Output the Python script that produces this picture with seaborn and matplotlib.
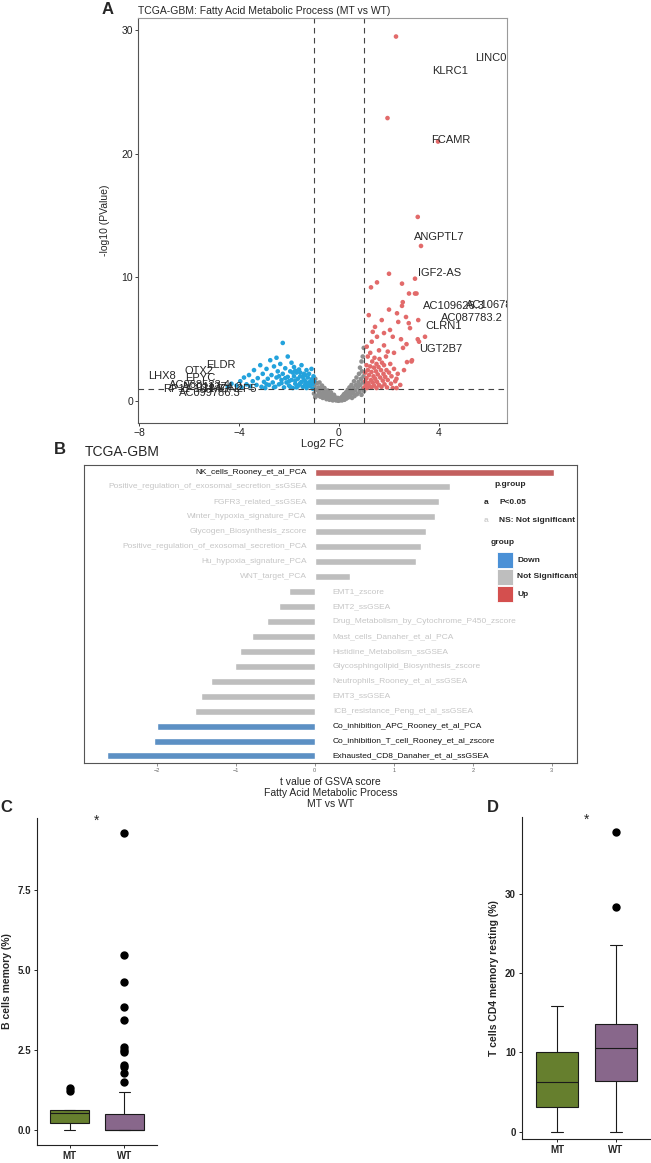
import numpy as np
import pandas as pd
import matplotlib
matplotlib.use("Agg")
import matplotlib.pyplot as plt
import seaborn as sns
from matplotlib.patches import Rectangle

# ---------------- Panel A: volcano (log2FC, -log10 P)
down_fc = [-4.45, -4.3, -4.1, -3.95, -3.9, -3.8, -3.7, -3.6, -3.55, -3.45, -3.4, -3.3, -3.25, -3.15,
           -3.1, -3.05, -3.0, -2.95, -2.9, -2.85, -2.8, -2.75, -2.7, -2.65, -2.6, -2.55, -2.5, -2.5,
           -2.45, -2.4, -2.35, -2.3, -2.25, -2.25, -2.2, -2.15, -2.1, -2.05, -2.05, -2.0, -1.95, -1.9,
           -1.9, -1.85, -1.8, -1.8, -1.75, -1.7, -1.7, -1.65, -1.6, -1.6, -1.55, -1.5, -1.5, -1.45,
           -1.4, -1.4, -1.35, -1.3, -1.3, -1.25, -1.2, -1.2, -1.15, -1.1, -1.1, -1.05, -1.05, -1.02,
           -1.0, -2.9, -2.6, -2.4, -2.3, -2.15, -2.0, -1.95, -1.85, -1.75, -1.65, -1.55, -1.45, -1.35,
           -1.25, -1.15, -1.35, -1.55, -1.75]
down_p = [1.15, 1.4, 1.25, 1.6, 1.1, 1.9, 1.35, 2.1, 1.2, 1.6, 2.5, 1.3, 1.85, 2.9,
          1.15, 2.2, 1.55, 1.05, 2.6, 1.8, 1.3, 3.3, 2.1, 1.5, 2.8, 1.15, 3.5, 1.9,
          2.4, 1.35, 3.0, 1.7, 4.7, 2.2, 1.1, 2.65, 1.5, 3.6, 1.95, 1.25, 2.4, 1.7,
          3.1, 1.05, 2.0, 2.75, 1.4, 2.3, 1.1, 1.8, 2.55, 1.3, 2.0, 1.55, 2.9, 1.15,
          2.2, 1.7, 1.35, 2.5, 1.05, 1.9, 1.5, 2.2, 1.2, 1.75, 2.6, 1.4, 1.0, 2.0,
          1.6, 1.35, 1.1, 2.0, 1.45, 1.85, 1.6, 1.15, 2.3, 1.65, 1.2, 1.45, 1.95, 1.6,
          1.25, 1.55, 2.1, 2.3, 2.45]

ns_fc = [-1.0, -0.98, -0.95, -0.95, -0.9, -0.88, -0.85, -0.82, -0.8, -0.78, -0.75, -0.72, -0.7,
         -0.68, -0.65, -0.62, -0.6, -0.58, -0.55, -0.52, -0.5, -0.48, -0.45, -0.42, -0.4, -0.38,
         -0.35, -0.32, -0.3, -0.28, -0.25, -0.22, -0.2, -0.18, -0.15, -0.12, -0.1, -0.08, -0.05,
         -0.03, 0.0, 0.03, 0.05, 0.08, 0.1, 0.12, 0.15, 0.18, 0.2, 0.22, 0.25, 0.28, 0.3, 0.32,
         0.35, 0.38, 0.4, 0.42, 0.45, 0.48, 0.5, 0.52, 0.55, 0.58, 0.6, 0.62, 0.65, 0.68, 0.7,
         0.72, 0.75, 0.78, 0.8, 0.82, 0.84, 0.85, 0.88, 0.9, 0.9, 0.92, 0.94, 0.95, 0.96, 0.98,
         0.99, 1.0]
ns_p = [0.6, 1.2, 0.3, 1.8, 0.9, 1.45, 0.45, 1.1, 0.7, 1.5, 0.35, 0.95, 0.6,
        1.25, 0.25, 0.8, 0.5, 1.05, 0.3, 0.7, 0.15, 0.5, 0.85, 0.3, 0.6, 0.1,
        0.4, 0.7, 0.2, 0.45, 0.05, 0.3, 0.5, 0.15, 0.3, 0.05, 0.2, 0.1, 0.25,
        0.02, 0.12, 0.05, 0.2, 0.1, 0.3, 0.05, 0.4, 0.2, 0.55, 0.1, 0.35, 0.7, 0.2, 0.5,
        0.9, 0.3, 0.65, 1.1, 0.45, 0.85, 1.3, 0.25, 0.65, 1.05, 1.6, 0.4, 0.85, 1.3, 1.9,
        0.55, 1.1, 1.55, 2.2, 0.75, 2.7, 1.3, 1.8, 3.2, 0.5, 2.4, 1.0, 3.6, 1.5, 2.0,
        4.3, 0.8]

up_fc = [1.02, 1.05, 1.05, 1.08, 1.1, 1.1, 1.12, 1.15, 1.15, 1.18, 1.2, 1.22, 1.25, 1.25, 1.28,
         1.3, 1.3, 1.33, 1.35, 1.38, 1.4, 1.4, 1.42, 1.45, 1.48, 1.5, 1.5, 1.52, 1.55, 1.58, 1.6,
         1.62, 1.65, 1.68, 1.7, 1.72, 1.75, 1.78, 1.8, 1.82, 1.85, 1.88, 1.9, 1.92, 1.95, 2.0,
         2.05, 2.08, 2.1, 2.15, 2.2, 2.25, 2.3, 2.35, 2.45, 2.6, 2.72, 2.9, 2.3,
         1.11, 1.31, 1.8, 2.56, 2.92, 1.52, 2.15, 2.48, 3.15, 3.44, 1.8, 1.44, 2.04, 2.84, 1.71,
         2.37, 2.79, 3.17, 1.19, 2.68, 2.32, 2.0, 2.52, 2.55, 2.8, 3.04, 1.28, 2.52, 1.52, 3.04,
         2.0, 3.28, 3.15, 1.94, 2.28, 3.1, 3.2, 1.6, 2.2, 1.35, 1.95, 2.7, 3.96]
up_p = [1.1, 1.6, 2.3, 1.3, 2.9, 1.85, 1.05, 2.5, 3.6, 1.45, 2.1, 1.2, 2.8, 3.9, 1.7,
        2.35, 1.1, 3.2, 1.5, 2.0, 2.7, 1.25, 3.5, 1.8, 2.4, 1.05, 3.0, 1.55, 2.15, 2.75, 1.3,
        3.4, 1.9, 2.5, 1.15, 3.1, 1.65, 2.2, 2.9, 1.35, 1.95, 3.6, 2.5, 1.1, 1.7, 2.3,
        3.0, 1.4, 2.0, 1.05, 2.6, 1.6, 1.8, 2.2, 1.3, 2.5, 3.15, 3.2, 1.05,
        4.4, 4.8, 4.5, 4.3, 3.3, 5.2, 5.2, 5.0, 5.0, 5.2, 5.5, 6.0, 5.75, 5.9, 6.55,
        6.4, 6.3, 6.55, 6.95, 6.8, 7.1, 7.4, 7.7, 8.0, 8.7, 8.7, 9.2, 9.5, 9.6, 9.9,
        10.3, 12.55, 14.9, 22.9, 29.5, 8.7, 4.8, 4.1, 3.9, 5.6, 4.0, 4.6, 21.0]

lab_genes = ["LINC0", "KLRC1", "FCAMR", "ANGPTL7", "IGF2-AS", "AC109626.3", "AC106786.1",
             "AC087783.2", "CLRN1", "UGT2B7", "LHX8", "OTX2", "EPYC", "ELDR", "AC068533.4",
             "RP11-1C1.7", "AC011374.2", "HMGN2P5", "AC099786.3"]
lab_fc = [5.44, 3.72, 3.68, 3.0, 3.16, 3.36, 5.08, 4.08, 3.46, 3.2, -7.64, -6.16, -6.16, -5.32,
          -6.8, -7.05, -6.3, -5.45, -6.4]
lab_p = [27.8, 26.7, 21.1, 13.3, 10.35, 7.65, 7.75, 6.7, 6.1, 4.2, 2.0, 2.4, 1.85, 2.9,
         1.3, 0.95, 1.1, 1.0, 0.65]

# ---------------- Panel B: GSVA t values
sig_names = ["NK_cells_Rooney_et_al_PCA",
             "Positive_regulation_of_exosomal_secretion_ssGSEA",
             "FGFR3_related_ssGSEA",
             "Winter_hypoxia_signature_PCA",
             "Glycogen_Biosynthesis_zscore",
             "Positive_regulation_of_exosomal_secretion_PCA",
             "Hu_hypoxia_signature_PCA",
             "WNT_target_PCA",
             "EMT1_zscore",
             "EMT2_ssGSEA",
             "Drug_Metabolism_by_Cytochrome_P450_zscore",
             "Mast_cells_Danaher_et_al_PCA",
             "Histidine_Metabolism_ssGSEA",
             "Glycosphingolipid_Biosynthesis_zscore",
             "Neutrophils_Rooney_et_al_ssGSEA",
             "EMT3_ssGSEA",
             "ICB_resistance_Peng_et_al_ssGSEA",
             "Co_inhibition_APC_Rooney_et_al_PCA",
             "Co_inhibition_T_cell_Rooney_et_al_zscore",
             "Exhausted_CD8_Danaher_et_al_ssGSEA"]
t_values = [3.03, 1.71, 1.57, 1.52, 1.41, 1.35, 1.28, 0.45, -0.32, -0.45, -0.60, -0.79,
            -0.95, -1.01, -1.31, -1.44, -1.51, -2.00, -2.04, -2.63]
t_group = ["Up"] + ["Not Significant"] * 16 + ["Down"] * 3

# ---------------- Panels C / D: immune cell fractions
b_mem_mt = [0.0, 0.1, 0.18, 0.23, 0.35, 0.47, 0.53, 0.56, 0.59, 0.61, 0.63, 1.22, 1.32]
b_mem_wt = [0.0] * 30 + [0.02, 0.04, 0.06, 0.09, 0.12, 0.15, 0.19, 0.23, 0.28, 0.33, 0.39, 0.45,
                         0.5, 0.72, 1.2, 1.51, 1.78, 1.98, 2.03, 2.43, 2.5, 2.6, 3.44, 3.85,
                         4.63, 5.47, 9.29]
cd4_mt = [0.0, 1.2, 2.3, 3.16, 4.4, 5.5, 6.24, 7.3, 8.6, 10.0, 11.8, 13.9, 15.9]
cd4_wt = [0.0, 1.1, 2.0, 2.9, 3.6, 4.2, 4.8, 5.3, 5.8, 6.1, 6.44, 6.8, 7.2, 7.6, 8.0, 8.4, 8.9,
          9.3, 9.8, 10.2, 10.53, 10.8, 11.1, 11.4, 11.7, 12.0, 12.4, 12.8, 13.1, 13.4, 13.6,
          14.2, 15.0, 15.9, 16.8, 18.0, 19.3, 20.9, 23.57, 28.3, 37.8]

sns.set_style("ticks")
plt.rcParams["font.family"] = ["Liberation Sans", "DejaVu Sans"]

W, H = 651, 1163
fig = plt.figure(figsize=(W / 100, H / 100), dpi=100)


def px_axes(x0, y0, x1, y1):
    return fig.add_axes([x0 / W, 1 - y1 / H, (x1 - x0) / W, (y1 - y0) / H])


def fx(x):
    return x / W


def fy(y):
    return 1 - y / H


# ---------- A
axA = px_axes(138, 18, 507, 423)
vol = pd.concat([
    pd.DataFrame({"fc": ns_fc, "p": ns_p, "grp": "NS"}),
    pd.DataFrame({"fc": down_fc, "p": down_p, "grp": "Down"}),
    pd.DataFrame({"fc": up_fc, "p": up_p, "grp": "Up"}),
])
sns.scatterplot(data=vol, x="fc", y="p", hue="grp",
                palette={"NS": "#8f8f8f", "Down": "#23a2dc", "Up": "#e26a6a"},
                s=11, linewidth=0, legend=False, ax=axA)
for g, xv, yv in zip(lab_genes, lab_fc, lab_p):
    axA.text(xv, yv, g, fontsize=8, ha="left", va="center", clip_on=True)
for xv in (-1, 1):
    axA.axvline(xv, color="#444444", lw=0.8, ls=(0, (5, 4)))
axA.axhline(1.0, color="#444444", lw=0.8, ls=(0, (5, 4)))
axA.set_xlim(-8.04, 6.72)
axA.set_ylim(-1.78, 31.0)
axA.set_xticks([-8, -4, 0, 4])
axA.set_yticks([0, 10, 20, 30])
axA.tick_params(labelsize=7.5, length=2, width=0.6, pad=1.5, colors="#222222")
axA.set_xlabel("Log2 FC", fontsize=8, labelpad=1)
axA.set_ylabel("-log10 (PValue)", fontsize=7.5, labelpad=8)
axA.set_title("TCGA-GBM: Fatty Acid Metabolic Process (MT vs WT)", loc="left",
              fontsize=7.5, pad=3)
for side in ("top", "right"):
    axA.spines[side].set_color("#9a9a9a")
for side in ("left", "bottom"):
    axA.spines[side].set_color("#555555")
for sp in axA.spines.values():
    sp.set_linewidth(0.8)
fig.text(fx(102), fy(9), "A", fontsize=12, fontweight="bold", va="center")

# ---------- B
axB = px_axes(84, 465, 577, 763)
bars = pd.DataFrame({"name": sig_names, "t": t_values, "grp": t_group})
bar_pal = {"Up": "#d44f4e", "Not Significant": "#bebebe", "Down": "#4a90d6"}
sns.barplot(data=bars, x="t", y="name", hue="grp", palette=bar_pal, dodge=False,
            orient="h", width=0.47, legend=False, ax=axB)
for i, (n, t, g) in enumerate(zip(sig_names, t_values, t_group)):
    col = "#111111" if g != "Not Significant" else "#c6c6c6"
    if t > 0:
        axB.text(-0.1, i, n, ha="right", va="center", fontsize=6, color=col)
    else:
        axB.text(0.23, i, n, ha="left", va="center", fontsize=6, color=col)
axB.set_xlim(-2.92, 3.32)
axB.set_ylim(19.47, -0.47)
axB.set_yticks([])
axB.set_ylabel("")
axB.set_xticks([-2, -1, 0, 1, 2, 3])
axB.tick_params(axis="x", labelsize=4, length=2, width=0.5, pad=1.5, colors="#666666")
axB.set_xlabel("t value of GSVA score\nFatty Acid Metabolic Process\nMT vs WT",
               fontsize=7.5, labelpad=3, linespacing=1.15)
for sp in axB.spines.values():
    sp.set_color("#555555")
    sp.set_linewidth(0.8)
fig.text(fx(54), fy(450), "B", fontsize=12, fontweight="bold", va="center")
fig.text(fx(85), fy(452), "TCGA-GBM", fontsize=10, va="center")

# legend of B
fig.text(fx(510), fy(485), "p.group", fontsize=6, fontweight="bold", ha="center", va="center")
fig.text(fx(486), fy(502), "a", fontsize=6, fontweight="bold", ha="center", va="center")
fig.text(fx(499), fy(502), "P<0.05", fontsize=6, fontweight="bold", va="center")
fig.text(fx(486), fy(520), "a", fontsize=6, fontweight="bold", ha="center", va="center",
         color="#d0d0d0")
fig.text(fx(499), fy(521), "NS: Not significant", fontsize=6, fontweight="bold", va="center")
fig.text(fx(491), fy(543), "group", fontsize=6, fontweight="bold", va="center")
for k, (lab, key) in enumerate([("Down", "Down"), ("Not Significant", "Not Significant"),
                                ("Up", "Up")]):
    y0 = 552 + k * 17
    fig.patches.append(Rectangle((fx(497), fy(y0 + 16)), 16 / W, 16 / H,
                                 transform=fig.transFigure, facecolor=bar_pal[key],
                                 edgecolor="white", lw=0.6))
    fig.text(fx(517), fy(y0 + 8), lab, fontsize=6, fontweight="bold", va="center")

# ---------- C and D
box_pal = {"MT": "#6b8c21", "WT": "#8d6191"}


def draw_box(ax, mt, wt, ylim, yticks, ylab, star_y, ytick_fmt):
    df = pd.DataFrame({"grp": ["MT"] * len(mt) + ["WT"] * len(wt), "val": mt + wt})
    sns.boxplot(data=df, x="grp", y="val", hue="grp", palette=box_pal, width=0.72,
                linecolor="#1a1a1a", linewidth=0.8, fliersize=5, legend=False,
                flierprops=dict(marker="o", markerfacecolor="black", markeredgecolor="black"),
                capwidths=0.2, ax=ax)
    ax.set_xlim(-0.6, 1.6)
    ax.set_ylim(*ylim)
    ax.set_yticks(yticks)
    ax.set_yticklabels([ytick_fmt.format(v) for v in yticks])
    ax.set_xlabel("")
    ax.set_ylabel(ylab, fontsize=7.5, fontweight="bold", labelpad=4)
    ax.tick_params(labelsize=7, length=2.5, width=0.7, pad=2)
    for lab in ax.get_xticklabels() + ax.get_yticklabels():
        lab.set_fontweight("bold")
    for side in ("top", "right"):
        ax.spines[side].set_visible(False)
    for side in ("left", "bottom"):
        ax.spines[side].set_color("#222222")
        ax.spines[side].set_linewidth(0.8)
    ax.text(0.5, star_y, "*", ha="center", va="center", fontsize=10)


axC = px_axes(37, 818, 157, 1145)
draw_box(axC, b_mem_mt, b_mem_wt, (-0.47, 9.75), [0, 2.5, 5.0, 7.5], "B cells memory (%)",
         9.65, "{:.1f}")
fig.text(fx(0), fy(807), "C", fontsize=12, fontweight="bold", va="center")

axD = px_axes(522, 817, 651, 1139)
draw_box(axD, cd4_mt, cd4_wt, (-0.92, 39.7), [0, 10, 20, 30],
         "T cells CD4 memory resting (%)", 39.4, "{:.0f}")
fig.text(fx(487), fy(807), "D", fontsize=12, fontweight="bold", va="center")

fig.savefig("out.png", dpi=100)
